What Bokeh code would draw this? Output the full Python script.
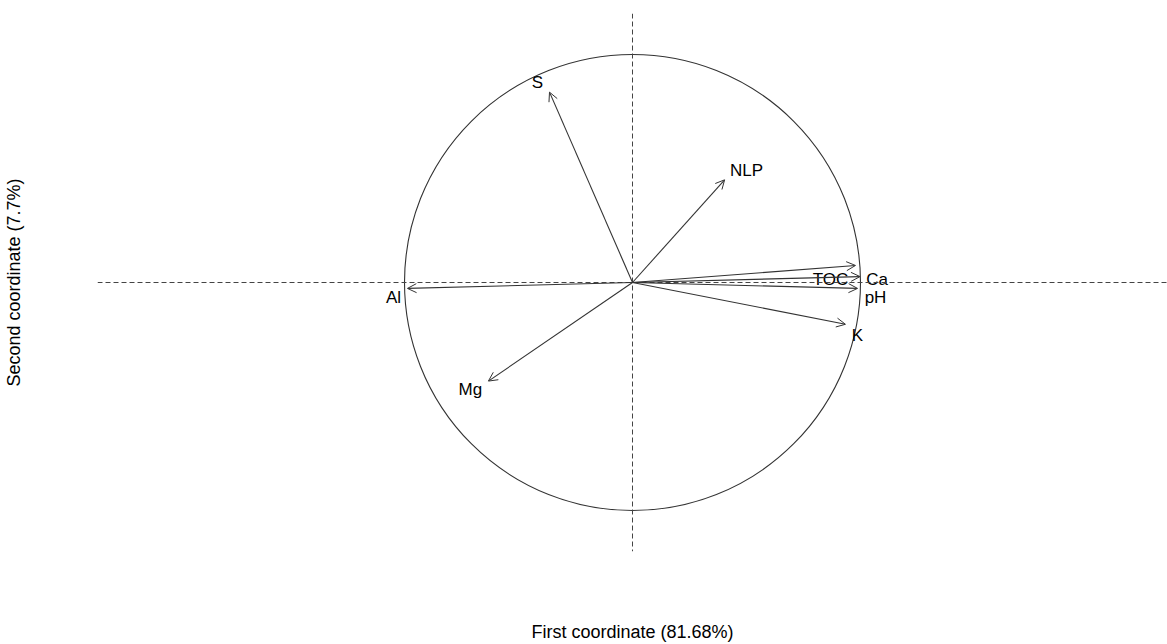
from bokeh.plotting import figure
from bokeh.models import Arrow, OpenHead, Span, ColumnDataSource, FixedTicker
from bokeh.core.properties import value
from bokeh.embed import file_html
from bokeh.resources import INLINE

# Correlation circle: variable loadings on the first two coordinates
variables = ["S", "NLP", "TOC", "Ca", "pH", "K", "Al", "Mg"]
coord1 = [-0.364, 0.404, 0.978, 0.998, 0.987, 0.934, -0.987, -0.632]
coord2 = [0.838, 0.452, 0.075, 0.026, -0.026, -0.184, -0.026, -0.434]
x_title = "First coordinate (81.68%)"
y_title = "Second coordinate (7.7%)"

# label nudges (screen px) so names sit beside their arrow heads
label_dx = [-12, 22, -25, 17, 18, 12, -14, -18]
label_dy = [-10, -9, 14, 3, 9, 11, 9, 8]

FONT = "Liberation Sans"

W, H = 1167, 644
left, right, top, bottom = 97, 0, 13, 91
fw, fh = W - left - right, H - top - bottom
ppu = 228.0  # pixels per unit, equal on both axes
xr = fw / 2 / ppu
yr = fh / 2 / ppu

p = figure(width=W, height=H, x_range=(-xr, xr), y_range=(-yr, yr),
           output_backend="svg", toolbar_location=None,
           min_border_left=left, min_border_right=right,
           min_border_top=top, min_border_bottom=bottom,
           x_axis_label=x_title, y_axis_label=y_title)
p.grid.visible = False
p.outline_line_color = None
p.background_fill_color = "white"
p.border_fill_color = "white"

# axes carry only their titles
for ax in (p.xaxis[0], p.yaxis[0]):
    ax.ticker = FixedTicker(ticks=[])
    ax.axis_line_color = None
    ax.major_tick_line_color = None
    ax.minor_tick_line_color = None
    ax.major_tick_out = 0
    ax.major_tick_in = 0
    ax.minor_tick_out = 0
    ax.major_label_standoff = 0
    ax.axis_label_text_font = FONT
    ax.axis_label_text_font_size = "18px"
    ax.axis_label_text_font_style = "normal"
    ax.axis_label_text_color = "black"
p.xaxis[0].axis_label_standoff = 70
p.yaxis[0].axis_label_standoff = 74

# reference lines through the origin
for dim in ("width", "height"):
    p.add_layout(Span(location=0, dimension=dim, line_color="#444444",
                      line_width=1, line_dash="5 3"))

# unit circle
p.circle(x=[0], y=[0], radius=1, fill_color=None, line_color="#333333",
         line_width=1.1)

# loading arrows
for x, y in zip(coord1, coord2):
    p.add_layout(Arrow(end=OpenHead(size=9, line_width=1, line_color="#333333"),
                       x_start=0, y_start=0, x_end=x, y_end=y,
                       line_color="#333333", line_width=1.1))

src = ColumnDataSource(dict(x=coord1, y=coord2, name=variables,
                            dx=label_dx, dy=label_dy))
p.text(x="x", y="y", text="name", source=src, x_offset="dx", y_offset="dy",
       text_align="center", text_baseline="middle",
       text_font=value(FONT), text_font_size="17px", text_color="black")

open("out.html", "w").write(file_html(p, INLINE))
